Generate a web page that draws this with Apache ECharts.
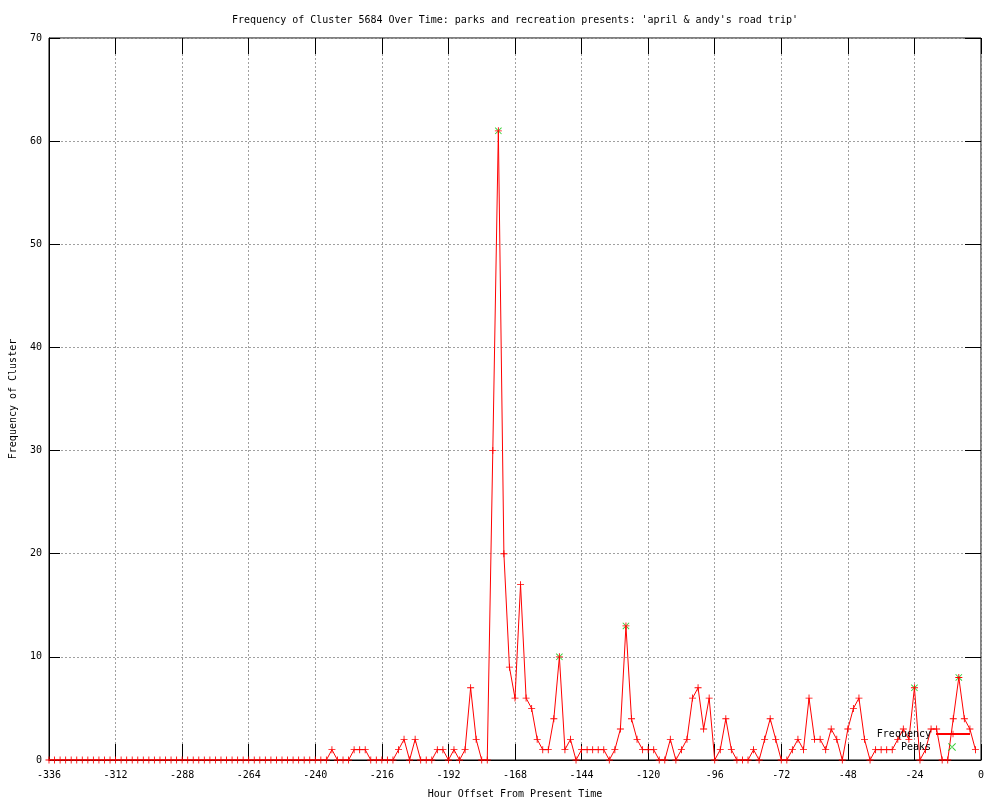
<!DOCTYPE html>
<html>
<head>
<meta charset="utf-8">
<title>Frequency of Cluster 5684</title>
<script src="https://cdn.jsdelivr.net/npm/echarts@6/dist/echarts.min.js"></script>
<style>
  html, body { margin: 0; padding: 0; background: #fff; }
  #chart { width: 1000px; height: 800px; }
</style>
</head>
<body>
<div id="chart"></div>
<script>
// hour offsets, every 2 hours
const hours = []
for (let h = -336; h <= -2; h += 2) hours.push(h)

// frequency per 2-hour bucket (-336 .. -2)
const frequency = [
  0, 0, 0, 0, 0, 0, 0, 0, 0, 0, 0, 0,          // -336 .. -314
  0, 0, 0, 0, 0, 0, 0, 0, 0, 0, 0, 0,          // -312 .. -290
  0, 0, 0, 0, 0, 0, 0, 0, 0, 0, 0, 0,          // -288 .. -266
  0, 0, 0, 0, 0, 0, 0, 0, 0, 0, 0, 0,          // -264 .. -242
  0, 0, 0, 1, 0, 0, 0, 1, 1, 1, 0, 0,          // -240 .. -218
  0, 0, 0, 1, 2, 0, 2, 0, 0, 0, 1, 1,          // -216 .. -194
  0, 1, 0, 1, 7, 2, 0, 0, 30, 61, 20, 9,       // -192 .. -170
  6, 17, 6, 5, 2, 1, 1, 4, 10, 1, 2, 0,        // -168 .. -146
  1, 1, 1, 1, 1, 0, 1, 3, 13, 4, 2, 1,         // -144 .. -122
  1, 1, 0, 0, 2, 0, 1, 2, 6, 7, 3, 6,          // -120 .. -98
  0, 1, 4, 1, 0, 0, 0, 1, 0, 2, 4, 2,          // -96 .. -74
  0, 0, 1, 2, 1, 6, 2, 2, 1, 3, 2, 0,          // -72 .. -50
  3, 5, 6, 2, 0, 1, 1, 1, 1, 2, 3, 2,          // -48 .. -26
  7, 0, 1, 3, 3, 0, 0, 4, 8, 4, 3, 1           // -24 .. -2
]

const peakHours = [-174, -152, -128, -24, -8]
const peakValues = [61, 10, 13, 7, 8]

const xTicks = { min: -336, max: 0, interval: 24 }
const yTicks = { min: 0, max: 70, interval: 10 }

const FONT = '"DejaVu Sans Mono", "Liberation Mono", monospace'
// gnuplot style point markers: "+" and "x"
const PLUS = 'path://M-4,-0.5H4V0.5H-4Z M-0.5,-4H0.5V4H-0.5Z'
const CROSS = 'path://M-4,-3.3L-3.3,-4L4,3.3L3.3,4Z M4,-3.3L3.3,-4L-4,3.3L-3.3,4Z'

let chart = echarts.init(document.getElementById('chart'))

let gridLine = {
  show: true,
  lineStyle: { color: '#a0a0a0', width: 1, type: [2, 2] }
}

let mirrorTick = len => ({ show: true, inside: true, length: len, lineStyle: { color: '#000' } })

chart.setOption({
  animation: false,
  backgroundColor: '#fff',
  textStyle: { fontFamily: FONT, color: '#000' },
  title: {
    text: "Frequency of Cluster 5684 Over Time: parks and recreation presents: 'april & andy's road trip'",
    left: 510,
    textAlign: 'center',
    top: 10,
    textStyle: { fontFamily: FONT, fontSize: 10, fontWeight: 'normal', color: '#000' }
  },
  legend: [
    {
      data: ['Frequency'],
      right: 24,
      top: 724,
      align: 'right',
      itemWidth: 34,
      itemHeight: 8,
      textStyle: { fontFamily: FONT, fontSize: 10, color: '#000' }
    },
    {
      data: ['Peaks'],
      right: 39,
      top: 737,
      align: 'right',
      itemWidth: 32,
      itemHeight: 8,
      textStyle: { fontFamily: FONT, fontSize: 10, color: '#000' }
    }
  ],
  grid: {
    left: 49,
    right: 19,
    top: 38,
    bottom: 40,
    outerBoundsMode: 'none',
    show: true,
    borderColor: '#000',
    borderWidth: 1
  },
  xAxis: [
    {
      type: 'value',
      min: xTicks.min,
      max: xTicks.max,
      interval: xTicks.interval,
      name: 'Hour Offset From Present Time',
      nameLocation: 'middle',
      nameGap: 29,
      nameTextStyle: { fontFamily: FONT, fontSize: 10, color: '#000' },
      axisLine: { show: true, onZero: false, lineStyle: { color: '#000' } },
      axisTick: mirrorTick(16),
      axisLabel: { color: '#000', fontFamily: FONT, fontSize: 10, margin: 10 },
      splitLine: gridLine
    },
    {
      type: 'value',
      position: 'top',
      min: xTicks.min,
      max: xTicks.max,
      interval: xTicks.interval,
      axisLine: { show: false, onZero: false },
      axisTick: mirrorTick(16),
      axisLabel: { show: false },
      splitLine: { show: false }
    }
  ],
  yAxis: [
    {
      type: 'value',
      min: yTicks.min,
      max: yTicks.max,
      interval: yTicks.interval,
      name: 'Frequency of Cluster',
      nameLocation: 'middle',
      nameGap: 31,
      nameTextStyle: { fontFamily: FONT, fontSize: 10, color: '#000' },
      axisLine: { show: true, onZero: false, lineStyle: { color: '#000' } },
      axisTick: mirrorTick(11),
      axisLabel: { color: '#000', fontFamily: FONT, fontSize: 10, margin: 7 },
      splitLine: gridLine
    },
    {
      type: 'value',
      position: 'right',
      min: yTicks.min,
      max: yTicks.max,
      interval: yTicks.interval,
      axisLine: { show: false, onZero: false },
      axisTick: mirrorTick(16),
      axisLabel: { show: false },
      splitLine: { show: false }
    }
  ],
  series: [
    {
      name: 'Frequency',
      type: 'line',
      data: hours.map((h, i) => [h, frequency[i]]),
      symbol: PLUS,
      symbolSize: 7,
      showAllSymbol: true,
      color: '#ff0000',
      lineStyle: { color: '#ff0000', width: 1 },
      itemStyle: { color: '#ff0000' },
      emphasis: { disabled: true },
      z: 3
    },
    {
      name: 'Peaks',
      type: 'scatter',
      data: peakHours.map((h, i) => [h, peakValues[i]]),
      symbol: CROSS,
      symbolSize: 7,
      color: '#00c000',
      itemStyle: { color: '#00c000' },
      emphasis: { disabled: true },
      z: 2
    }
  ]
})
</script>
</body>
</html>
